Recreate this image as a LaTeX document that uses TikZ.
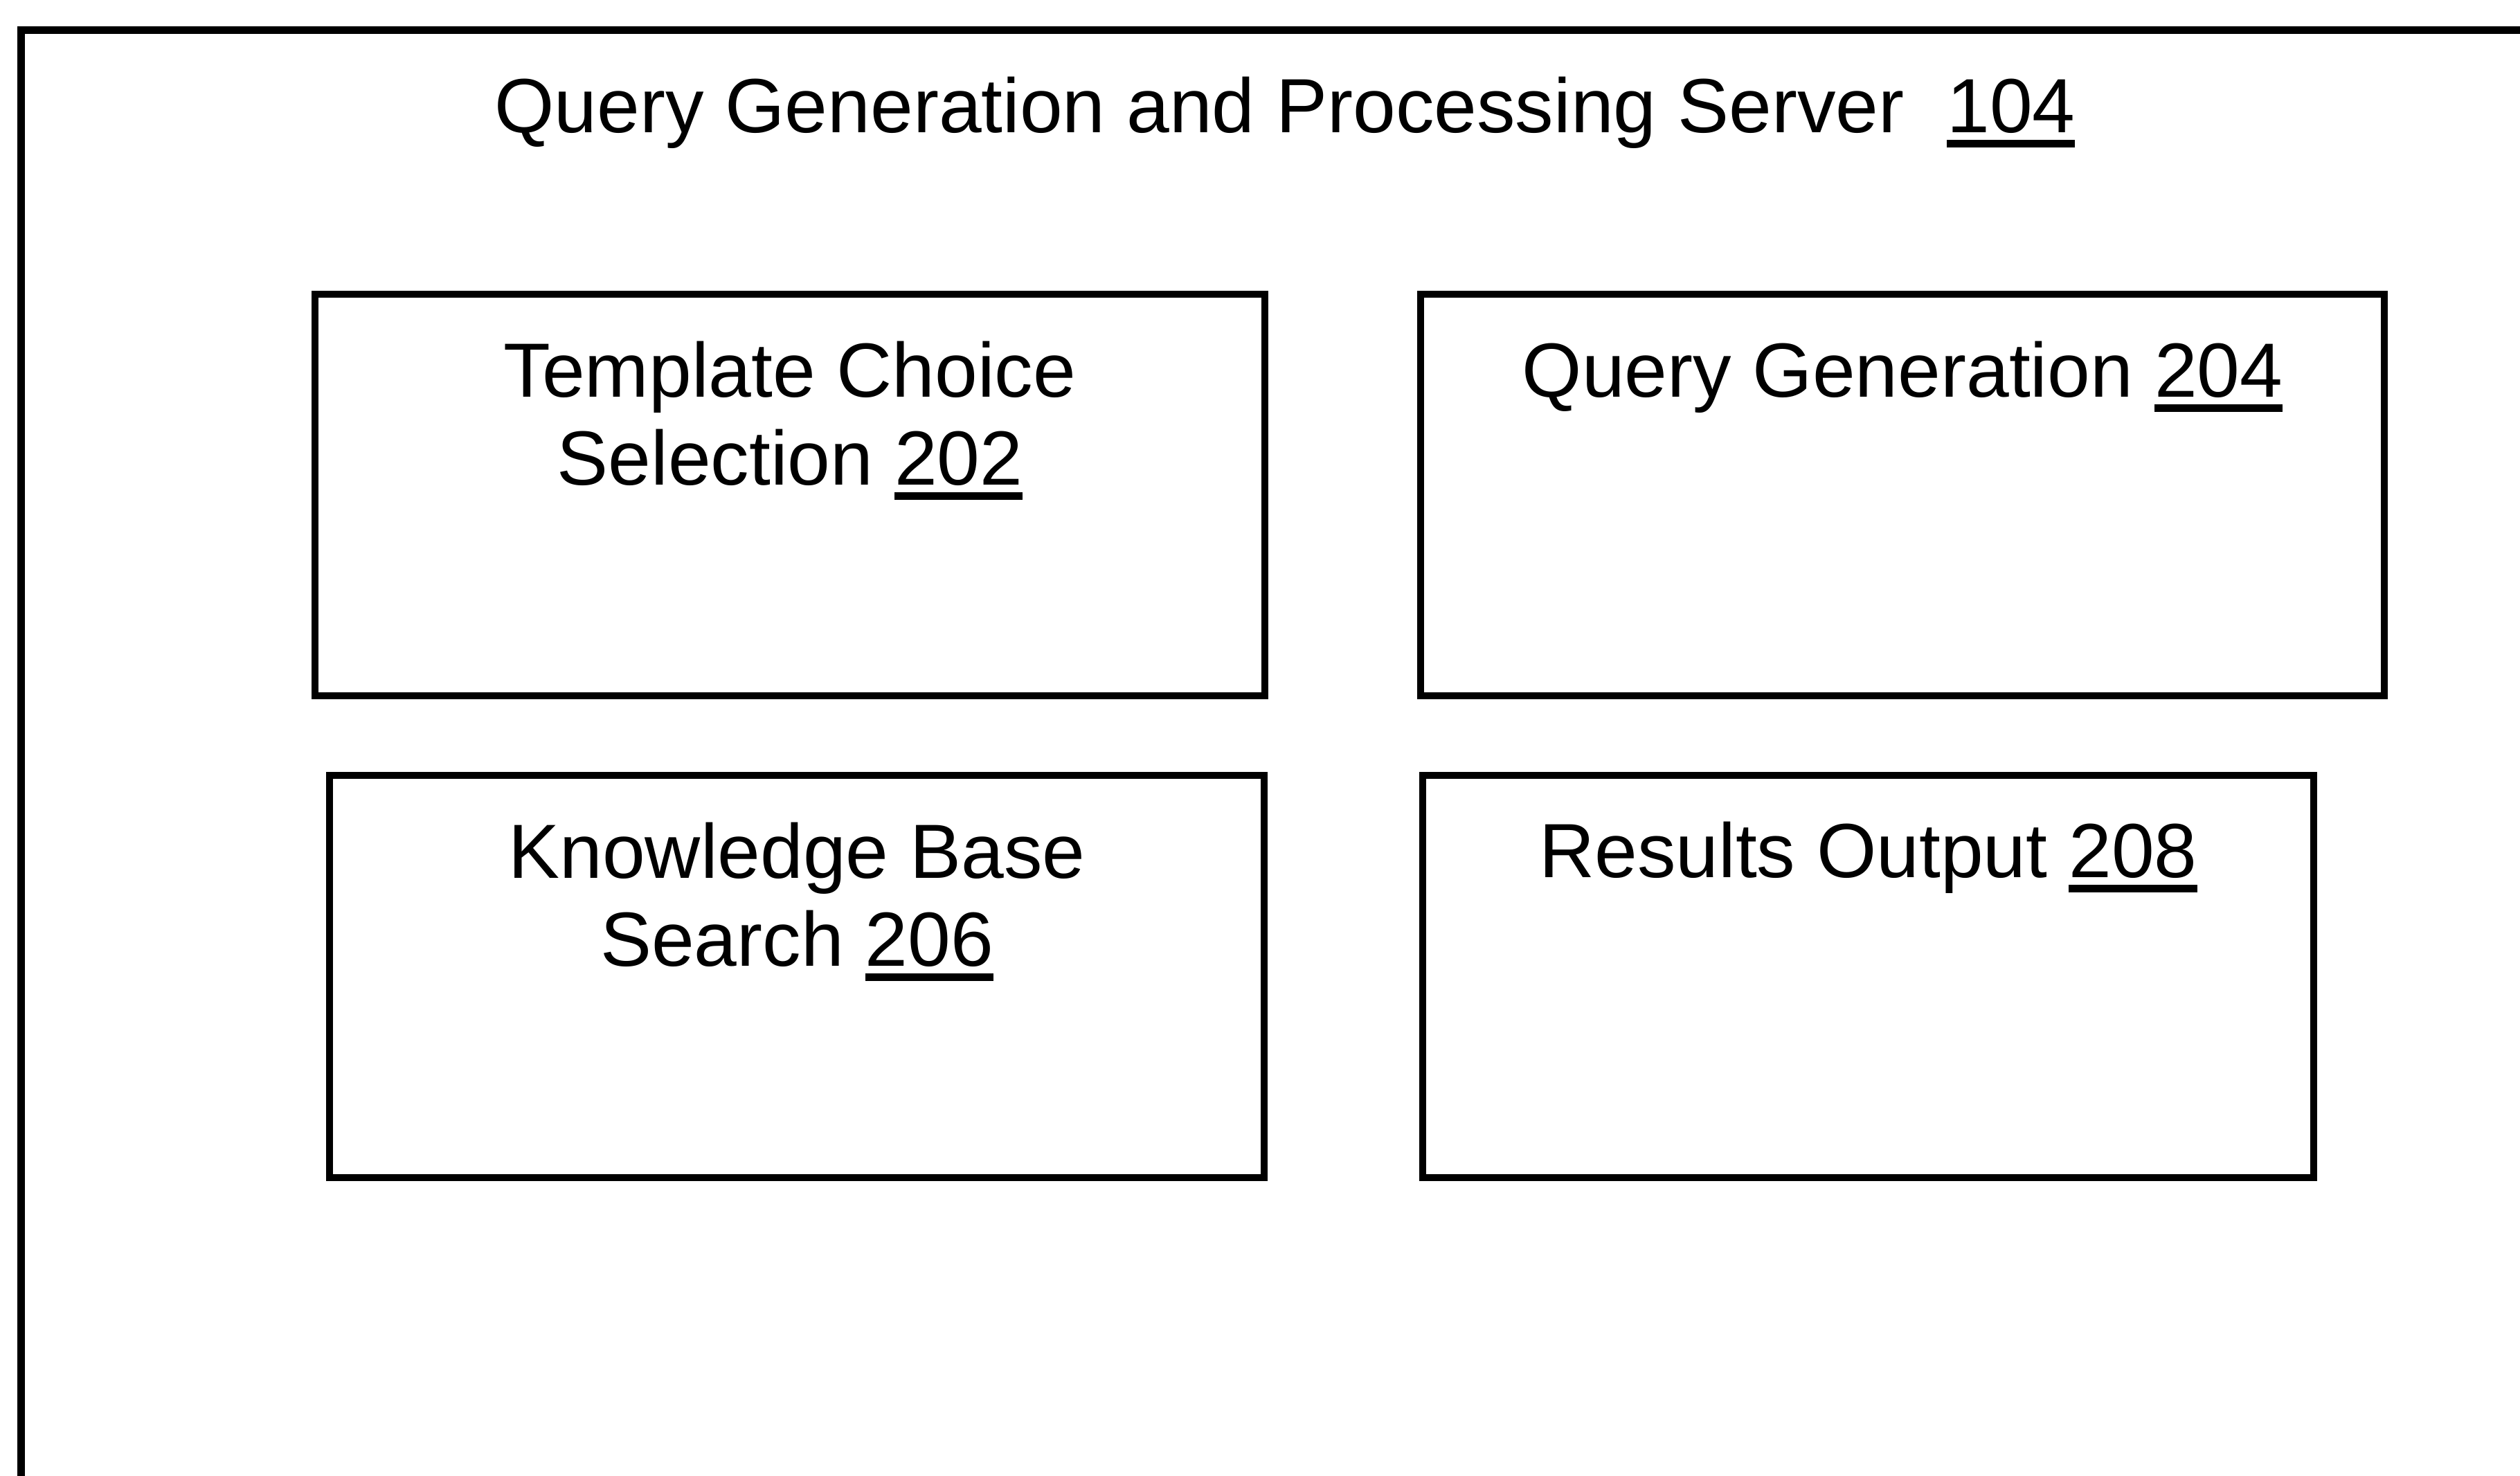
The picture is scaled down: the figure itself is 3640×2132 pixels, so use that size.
\documentclass[tikz,border=0pt]{standalone}
\usepackage{fontspec}
\setmainfont{Liberation Sans}
\newcommand\ulnum[1]{\setbox0=\hbox{#1}\rlap{\rule[-4.3pt]{\wd0}{2.1pt}}\box0}
\begin{document}
\begin{tikzpicture}[x=0.2pt,y=-0.2pt,
  box/.style={draw,line width=2pt,inner sep=0pt},
  lbl/.style={font=\fontsize{22.2pt}{25.4pt}\selectfont,align=center,inner sep=0pt,anchor=base}]
\useasboundingbox (0,0) rectangle (3640,2132);
\fill[white] (0,0) rectangle (3640,2132);
\begin{scope}
\clip (0,0) rectangle (3640,2132);
\draw[line width=2.2pt] (30,2300) -- (30,43) -- (3800,43);
\end{scope}
\node[lbl] (title) at (1856,191) {Query Generation and Processing Server~~\ulnum{104}};
\node[box,minimum width=274.4pt,minimum height=116pt] (b202) at (1141,715) {};
\node[box,minimum width=278.4pt,minimum height=116pt] (b204) at (2748,715) {};
\node[box,minimum width=270pt,minimum height=116.2pt] (b206) at (1151,1410.5) {};
\node[box,minimum width=257.4pt,minimum height=116.2pt] (b208) at (2698.5,1410.5) {};
\node[lbl] (t202) at (1141,700) {Template Choice\\Selection \ulnum{202}};
\node[lbl] (t204) at (2748,573) {Query Generation \ulnum{204}};
\node[lbl] (t206) at (1151,1395) {Knowledge Base\\Search \ulnum{206}};
\node[lbl] (t208) at (2698.5,1267) {Results Output \ulnum{208}};
\end{tikzpicture}
\end{document}
